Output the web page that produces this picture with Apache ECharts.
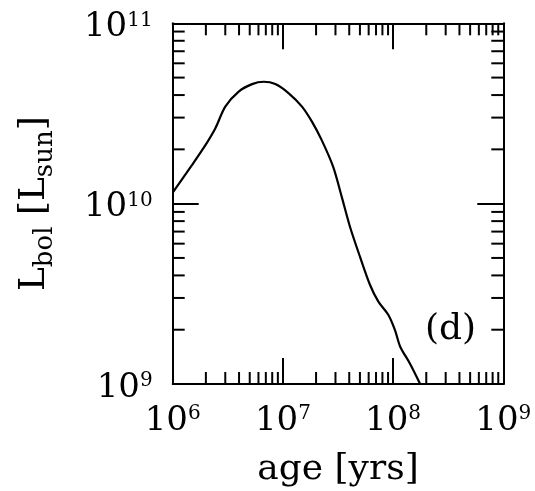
<!DOCTYPE html>
<html><head><meta charset="utf-8">
<script src="https://cdn.jsdelivr.net/npm/echarts@6/dist/echarts.min.js"></script>
<style>html,body{margin:0;padding:0;background:#fff}#c{width:535px;height:491px}</style>
</head><body><div id="c"></div>
<script>
// ---- data ----
const ageYrs = [1.00e6, 1.50e6, 1.98e6, 2.44e6, 3.00e6, 3.97e6, 5.25e6, 6.70e6, 8.53e6, 1.13e7,
                1.49e7, 1.84e7, 2.25e7, 2.86e7, 3.42e7, 4.06e7, 5.01e7, 6.18e7, 7.35e7, 9.04e7,
                1.04e8, 1.16e8, 1.42e8, 1.76e8];
const lbolLsun = [1.15e10, 1.64e10, 2.11e10, 2.62e10, 3.45e10, 4.18e10, 4.60e10, 4.74e10, 4.60e10, 4.09e10,
                  3.45e10, 2.84e10, 2.25e10, 1.60e10, 1.09e10, 7.45e9, 5.07e9, 3.54e9, 2.86e9, 2.42e9,
                  1.99e9, 1.61e9, 1.30e9, 1.00e9];
const xRange = [1e6, 1e9];
const yRange = [1e9, 1e11];
const minorMultipliers = [2, 3, 4, 5, 6, 7, 8, 9];
const xDecades = [1e6, 1e7, 1e8];
const yDecades = [1e9, 1e10];
const xTitle = 'age [yrs]';
const yTitleParts = ['L', 'bol', ' [L', 'sun', ']'];
const panelLabel = '(d)';

// ---- styling ----
const FONT = 'DejaVu Serif';
const MAJOR_LEN = 26, MINOR_LEN = 12, LW = 2;

const xMinor = [], yMinor = [];
xDecades.forEach(d => minorMultipliers.forEach(m => xMinor.push(d * m)));
yDecades.forEach(d => minorMultipliers.forEach(m => yMinor.push(d * m)));

const powLabel = v => '{b|10}{s|' + Math.round(Math.log10(v)) + '}';
const tickRich = {
  b: { fontFamily: FONT, fontSize: 34, lineHeight: 34, color: '#000' },
  s: { fontFamily: FONT, fontSize: 20, lineHeight: 20, color: '#000', verticalAlign: 'top' }
};

function axisBase(extra) {
  return Object.assign({
    type: 'log', logBase: 10,
    axisLine: { show: true, onZero: false, lineStyle: { color: '#000', width: LW } },
    axisTick: { show: true, inside: true, length: MAJOR_LEN, lineStyle: { color: '#000', width: LW } },
    splitLine: { show: false },
    minorTick: { show: false }
  }, extra);
}

const chart = echarts.init(document.getElementById('c'), null, { renderer: 'canvas' });
chart.setOption({
  backgroundColor: '#fff',
  animation: false,
  grid: { left: 172.7, right: 31.7, top: 23.3, bottom: 107, containLabel: false, outerBoundsMode: 'none' },
  xAxis: [
    axisBase({
      position: 'bottom', min: xRange[0], max: xRange[1],
      axisLabel: { show: true, margin: 20, formatter: powLabel, rich: tickRich, fontFamily: FONT, color: '#000' },
      name: xTitle, nameLocation: 'middle', nameGap: 68,
      nameTextStyle: { fontFamily: FONT, fontSize: 36, lineHeight: 36, color: '#000' }
    }),
    axisBase({ position: 'top', min: xRange[0], max: xRange[1], axisLabel: { show: false } })
  ],
  yAxis: [
    axisBase({
      position: 'left', min: yRange[0], max: yRange[1],
      axisLabel: { show: true, margin: 20, formatter: powLabel, rich: tickRich, fontFamily: FONT, color: '#000', padding: [8, 0, 0, 0] },
      name: '{m|' + yTitleParts[0] + '}{s|' + yTitleParts[1] + '}{m|' + yTitleParts[2] + '}{s|' + yTitleParts[3] + '}{m|' + yTitleParts[4] + '}',
      nameLocation: 'middle', nameRotate: 90, nameGap: 114,
      nameTextStyle: {
        fontFamily: FONT, color: '#000',
        rich: {
          m: { fontFamily: FONT, fontSize: 36, color: '#000', verticalAlign: 'top' },
          s: { fontFamily: FONT, fontSize: 26, color: '#000', verticalAlign: 'top', padding: [16, 0, 0, 0] }
        }
      }
    }),
    axisBase({ position: 'right', min: yRange[0], max: yRange[1], axisLabel: { show: false } })
  ],
  graphic: [{
    type: 'text', left: 425, top: 312, z: 10,
    style: { text: panelLabel, font: '36px "DejaVu Serif"', fill: '#000' }
  }],
  series: [
    {
      type: 'line', xAxisIndex: 0, yAxisIndex: 0,
      data: ageYrs.map((a, i) => [a, lbolLsun[i]]),
      showSymbol: false, smooth: 0.3, clip: true,
      lineStyle: { color: '#000', width: 2.2 }, z: 3
    },
    {
      type: 'custom', xAxisIndex: 0, yAxisIndex: 0, clip: false, silent: true, z: 5,
      data: xMinor.map(v => [v, yRange[0]]),
      encode: { x: 0, y: 1 },
      renderItem: (params, api) => {
        const v = api.value(0);
        const b = api.coord([v, yRange[0]]);
        const t = api.coord([v, yRange[1]]);
        return { type: 'group', children: [
          { type: 'line', shape: { x1: b[0], y1: b[1], x2: b[0], y2: b[1] - MINOR_LEN }, style: { stroke: '#000', lineWidth: LW } },
          { type: 'line', shape: { x1: t[0], y1: t[1], x2: t[0], y2: t[1] + MINOR_LEN }, style: { stroke: '#000', lineWidth: LW } }
        ]};
      }
    },
    {
      type: 'custom', xAxisIndex: 0, yAxisIndex: 0, clip: false, silent: true, z: 5,
      data: yMinor.map(v => [xRange[0], v]),
      encode: { x: 0, y: 1 },
      renderItem: (params, api) => {
        const v = api.value(1);
        const l = api.coord([xRange[0], v]);
        const r = api.coord([xRange[1], v]);
        return { type: 'group', children: [
          { type: 'line', shape: { x1: l[0], y1: l[1], x2: l[0] + MINOR_LEN, y2: l[1] }, style: { stroke: '#000', lineWidth: LW } },
          { type: 'line', shape: { x1: r[0], y1: r[1], x2: r[0] - MINOR_LEN, y2: r[1] }, style: { stroke: '#000', lineWidth: LW } }
        ]};
      }
    }
  ]
});
</script>
</body></html>
